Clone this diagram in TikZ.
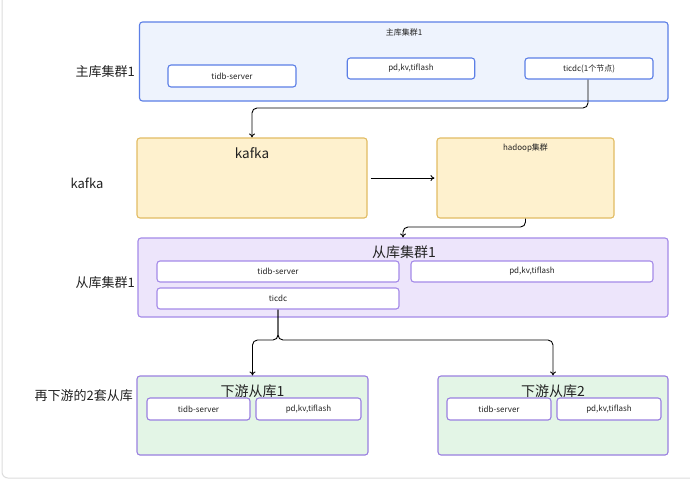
\documentclass[tikz,border=0pt]{standalone}
\usepackage{fontspec}
\setmainfont{Noto Sans CJK SC}
\usetikzlibrary{arrows.meta,calc}
\definecolor{mfill}{HTML}{EEF3FD}\definecolor{mline}{HTML}{5C7FE6}
\definecolor{kfill}{HTML}{FEF1CE}\definecolor{kline}{HTML}{E2BC63}
\definecolor{sfill}{HTML}{EDE5FB}\definecolor{sline}{HTML}{A48AE8}
\definecolor{dfill}{HTML}{E3F5E6}\definecolor{dline}{HTML}{9A80E0}
\definecolor{txt}{HTML}{222222}\definecolor{framec}{HTML}{DDDDDD}
\tikzset{
  grp/.style={draw, line width=1.1pt, rounded corners=3pt, inner sep=0pt},
  sub/.style={draw, fill=white, line width=1.1pt, rounded corners=3pt, inner sep=0pt, font=\fontsize{8}{9}\selectfont, text=txt},
  small/.style={font=\fontsize{8}{9}\selectfont, text=txt, inner sep=0pt},
  big/.style={font=\fontsize{14}{16}\selectfont, text=txt, inner sep=0pt},
  side/.style={font=\fontsize{13}{15}\selectfont, text=txt, inner sep=0pt},
  arr/.style={draw=black, line width=0.9pt, rounded corners=5pt, -{To[length=4pt,width=6pt]}},
}
\begin{document}
\begin{tikzpicture}[x=1pt,y=-1pt]
\useasboundingbox (0,0) rectangle (690,480);
\fill[white] (0,0) rectangle (690,480);
\draw[framec, line width=1pt, rounded corners=6pt] (2,-10) -- (2,478) -- (700,478);

% side labels
\node[side, anchor=east] (l1) at (135,72) {主库集群1};
\node[side] (l2) at (87,183) {kafka};
\node[side, anchor=east] (l3) at (135,283) {从库集群1};
\node[side, anchor=east] (l4) at (133,396) {再下游的2套从库};

% main cluster
\node[grp, fill=mfill, draw=mline, minimum width=528.5pt, minimum height=79pt] (main) at (403.75,61.5) {};
\node[small] (maint) at (404,32) {主库集群1};
\node[sub, draw=mline, minimum width=128pt, minimum height=22pt] (mtidb) at (232,76) {tidb-server};
\node[sub, draw=mline, minimum width=127.5pt, minimum height=21pt] (mpd) at (411,68.5) {pd,kv,tiflash};
\node[sub, draw=mline, minimum width=128pt, minimum height=21pt] (mticdc) at (589,68.5) {ticdc(1个节点)};

% kafka and hadoop
\node[grp, fill=kfill, draw=kline, minimum width=230pt, minimum height=80pt] (kafka) at (252,178) {};
\node[big, font=\fontsize{13.5}{15}\selectfont] (kafkat) at (252,153) {kafka};
\node[grp, fill=kfill, draw=kline, minimum width=177pt, minimum height=80pt] (hadoop) at (525.5,178) {};
\node[small] (hadoopt) at (525.5,148) {hadoop集群};

% slave cluster
\node[grp, fill=sfill, draw=sline, minimum width=530pt, minimum height=79pt] (slave) at (403,277.5) {};
\node[big] (slavet) at (404,252) {从库集群1};
\node[sub, draw=sline, minimum width=242pt, minimum height=21pt] (stidb) at (278,271.5) {tidb-server};
\node[sub, draw=sline, minimum width=242pt, minimum height=21pt] (spd) at (532,271.5) {pd,kv,tiflash};
\node[sub, draw=sline, minimum width=242pt, minimum height=21pt] (sticdc) at (278,298.5) {ticdc};

% downstream 1
\node[grp, fill=dfill, draw=dline, minimum width=231pt, minimum height=79pt] (d1) at (252.5,415.5) {};
\node[big] (d1t) at (252.5,391) {下游从库1};
\node[sub, draw=dline, minimum width=103pt, minimum height=22pt] (d1tidb) at (198.5,409) {tidb-server};
\node[sub, draw=dline, minimum width=105pt, minimum height=22pt] (d1pd) at (308.5,409) {pd,kv,tiflash};

% downstream 2
\node[grp, fill=dfill, draw=dline, minimum width=230pt, minimum height=79pt] (d2) at (553,415.5) {};
\node[big] (d2t) at (553,391) {下游从库2};
\node[sub, draw=dline, minimum width=104pt, minimum height=22pt] (d2tidb) at (499,409) {tidb-server};
\node[sub, draw=dline, minimum width=104pt, minimum height=22pt] (d2pd) at (609,409) {pd,kv,tiflash};

% connectors
\coordinate (c1) at (588,108);
\draw[arr] (mticdc.south -| c1) -- (c1) -| (kafka.north);
\draw[arr, rounded corners=0pt] ($(kafka.east)+(3,0)$) -- ($(hadoop.west)+(-2,0)$);
\coordinate (c2) at (525.5,227);
\draw[arr] (hadoop.south) -- (c2) -| (slave.north);
\coordinate (split) at (278,340);
\draw[arr] (sticdc.south) -- (split) -| (d1.north);
\draw[arr] (sticdc.south) -- (split) -| (d2.north);
\end{tikzpicture}
\end{document}
